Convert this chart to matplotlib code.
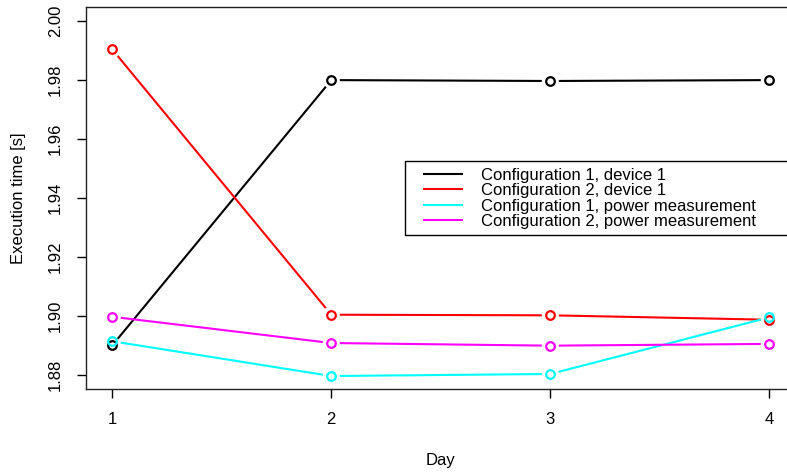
import numpy as np
import matplotlib.pyplot as plt
from matplotlib.lines import Line2D
from matplotlib.patches import Rectangle

days = [1, 2, 3, 4]
conf1_dev1 = [1.8900, 1.9800, 1.9797, 1.9800]
conf2_dev1 = [1.9904, 1.9004, 1.9002, 1.8987]
conf1_power = [1.8914, 1.8796, 1.8803, 1.8995]
conf2_power = [1.8997, 1.8908, 1.8899, 1.8905]

series = [conf1_dev1, conf2_dev1, conf1_power, conf2_power]
labels = ["Configuration 1, device 1", "Configuration 2, device 1",
          "Configuration 1, power measurement", "Configuration 2, power measurement"]
colors = ["black", "red", "cyan", "magenta"]
yticks = [1.88, 1.90, 1.92, 1.94, 1.96, 1.98, 2.00]

plt.rcParams['font.family'] = ['Liberation Sans', 'DejaVu Sans']
plt.rcParams['font.size'] = 12

W, H = 787, 472
fig = plt.figure(figsize=(W / 100, H / 100), dpi=100)
ax = fig.add_axes([86 / W, 1 - 389 / H, 709.6 / W, 382 / H])
ax.set_xlim(0.88, 4.12)
ax.set_ylim(1.8752, 2.0048)

# lines with gaps around the points (like type="b")
gap = 8.5
tr = ax.transData
for ys, c in zip(series, colors):
    pts = tr.transform(np.column_stack([days, ys]))
    for p0, p1 in zip(pts[:-1], pts[1:]):
        d = p1 - p0
        n = np.hypot(d[0], d[1])
        if n <= 2 * gap:
            continue
        u = d / n
        seg = tr.inverted().transform(np.array([p0 + u * gap, p1 - u * gap]))
        ax.plot(seg[:, 0], seg[:, 1], color=c, lw=1.5, solid_capstyle='butt')
    ax.plot(days, ys, 'o', mfc='none', mec=c, mew=1.6, ms=6.2, linestyle='none')

ax.set_xticks(days)
ax.set_yticks(yticks)
ax.set_yticklabels([f"{v:.2f}" for v in yticks], rotation=90, va='center')
ax.tick_params(direction='out', length=6.5, width=1, pad=10, labelsize=12)
for s in ax.spines.values():
    s.set_linewidth(1)
    s.set_color('#222222')

ax.set_xlabel("Day")
ax.xaxis.set_label_coords(0.5, (389 - 460) / 382)
ax.xaxis.label.set_va('center')
ax.set_ylabel("Execution time [s]")
ax.yaxis.set_label_coords((19 - 86) / 709.6, 0.5)
ax.yaxis.label.set_va('center')

# legend box
fig.patches.append(Rectangle((405 / W, 1 - 235 / H), 400 / W, 74 / H,
                             transform=fig.transFigure, fill=False,
                             edgecolor='black', lw=1))
handles = [Line2D([], [], color=c, lw=1.5) for c in colors]
fig.legend(handles, labels, loc='upper left',
           bbox_to_anchor=(424 / W, 1 - 168 / H), bbox_transform=fig.transFigure,
           frameon=False, borderpad=0, borderaxespad=0, labelspacing=0.02,
           handlelength=2.28, handletextpad=1.14, fontsize=12)

fig.savefig("out.png", dpi=100)
